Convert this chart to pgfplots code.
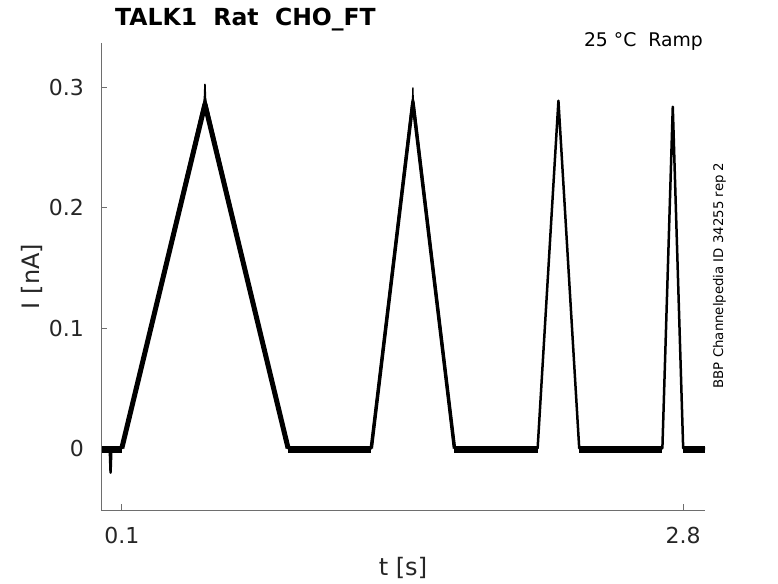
\documentclass[border=0pt]{standalone}
\usepackage{fontspec}
\setmainfont{DejaVu Sans}
\usepackage{pgfplots}
\pgfplotsset{compat=1.18}
\definecolor{axgray}{HTML}{262626}
\definecolor{axline}{HTML}{6E6E6E}
\begin{document}
\begin{tikzpicture}[x=1pt,y=1pt]
\useasboundingbox (0,0) rectangle (778,583);
\begin{axis}[
  at={(101pt,73pt)}, anchor=south west,
  scale only axis, width=604pt, height=467pt,
  xmin=0, xmax=2.905, ymin=-0.0513, ymax=0.337,
  axis line style={draw=none},
  xtick pos=bottom, ytick pos=left,
  tick align=inside,
  major tick length=6pt,
  tick style={axline, line width=0.9pt},
  xtick={0.1,2.8}, xticklabels={0.1,2.8},
  ytick={0,0.1,0.2,0.3}, yticklabels={0,0.1,0.2,0.3},
  /pgf/number format/assume math mode=true,
  tick label style={font=\fontsize{22}{26}\selectfont, text=axgray, inner sep=0pt},
  yticklabel style={anchor=east, xshift=-17pt},
  xticklabel style={anchor=north, yshift=-17pt},
  xlabel={t [s]}, ylabel={I [nA]},
  label style={font=\fontsize{24}{28}\selectfont, text=axgray},
  xlabel style={at={(axis description cs:0.5,-0.1392)}, anchor=base},
  ylabel style={at={(axis description cs:-0.1026,0.5)}, anchor=base, rotate=0},
  clip=true,
  extra description/.code={
    \draw[axline, line width=0.9pt] (axis description cs:0,1) -- (axis description cs:0,0) -- (axis description cs:1,0);
  },
]
% baseline noise bands
\addplot[black, line width=7.5pt, line cap=butt] coordinates {(0,-0.001) (0.1,-0.001)};
\addplot[black, line width=7.5pt, line cap=butt] coordinates {(0.9,-0.001) (1.3,-0.001)};
\addplot[black, line width=7.5pt, line cap=butt] coordinates {(1.7,-0.001) (2.1,-0.001)};
\addplot[black, line width=7.5pt, line cap=butt] coordinates {(2.3,-0.001) (2.7,-0.001)};
\addplot[black, line width=7.5pt, line cap=butt] coordinates {(2.8,-0.001) (2.905,-0.001)};
% main trace
\addplot[black, line width=2.5pt, line join=round] coordinates {
(0,0) (0.042,0) (0.046,-0.02) (0.05,0) (0.1,0)
(0.5,0.29) (0.9,0) (1.3,0) (1.5,0.29) (1.7,0) (2.1,0)
(2.2,0.289) (2.3,0) (2.7,0) (2.75,0.284) (2.8,0) (2.905,0)};
% dip spike
\addplot[black, line width=1.5pt] coordinates {(0.043,0) (0.046,-0.021) (0.049,0)};
% thick first ramp
\addplot[black, line width=5pt, line join=round] coordinates {(0.1,0) (0.5,0.286) (0.9,0)};
% second ramp
\addplot[black, line width=3.5pt, line join=round] coordinates {(1.3,0) (1.5,0.288) (1.7,0)};
% peak spikes
\addplot[black, line width=1.5pt] coordinates {(0.495,0.28) (0.5,0.303) (0.505,0.28)};
\addplot[black, line width=1.2pt] coordinates {(1.496,0.28) (1.5,0.3) (1.504,0.28)};
\end{axis}
\node[inner sep=0pt, anchor=base west, font=\fontsize{23.5}{28}\selectfont\bfseries] at (115,557) {TALK1\ \ Rat\ \ CHO\_FT};
\node[inner sep=0pt, anchor=base east, font=\fontsize{18.8}{22}\selectfont] at (703,536) {25 °C\ \ Ramp};
\node[inner sep=0pt, rotate=90, anchor=base, font=\fontsize{13.3}{16}\selectfont] at (723,307.5) {BBP Channelpedia ID 34255 rep 2};
\end{tikzpicture}
\end{document}
